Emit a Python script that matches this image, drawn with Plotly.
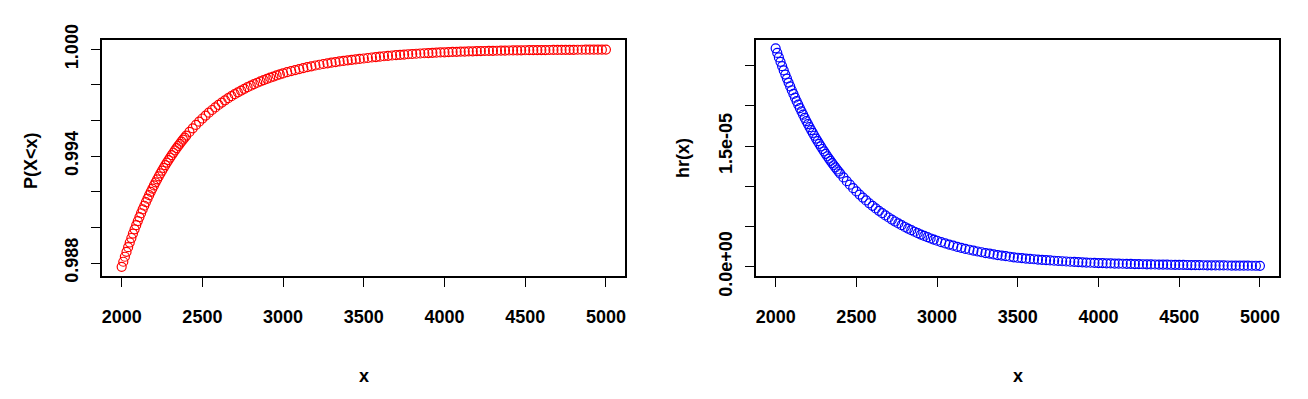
import plotly.graph_objects as go

# x grid (denser where the curves are steep)
x_vals = list(range(2000, 2401, 10)) + list(range(2420, 3001, 20)) + list(range(3025, 5001, 25))

# P(X<x)
p_vals = [
    0.987784, 0.988071, 0.988351, 0.988624, 0.988890, 0.989150, 0.989403, 0.989650, 0.989890, 0.990125,
    0.990354, 0.990577, 0.990795, 0.991008, 0.991215, 0.991417, 0.991614, 0.991806, 0.991994, 0.992177,
    0.992356, 0.992530, 0.992700, 0.992866, 0.993028, 0.993186, 0.993340, 0.993491, 0.993637, 0.993781,
    0.993920, 0.994057, 0.994190, 0.994320, 0.994447, 0.994571, 0.994692, 0.994810, 0.994925, 0.995038,
    0.995147,
    0.995359, 0.995561, 0.995754, 0.995937, 0.996113, 0.996280, 0.996439, 0.996591, 0.996736, 0.996875,
    0.997007, 0.997133, 0.997253, 0.997368, 0.997478, 0.997583, 0.997683, 0.997779, 0.997871, 0.997958,
    0.998042, 0.998121, 0.998198, 0.998271, 0.998340, 0.998407, 0.998471, 0.998532, 0.998591, 0.998646,
    0.998713, 0.998776, 0.998836, 0.998892, 0.998946, 0.998996, 0.999044, 0.999090, 0.999133, 0.999174,
    0.999213, 0.999250, 0.999284, 0.999318, 0.999349, 0.999379, 0.999407, 0.999434, 0.999460,
    0.999484, 0.999512, 0.999539, 0.999564, 0.999588, 0.999610, 0.999632, 0.999652, 0.999671, 0.999689,
    0.999706, 0.999722, 0.999737, 0.999751, 0.999765, 0.999778, 0.999790, 0.999801, 0.999812, 0.999823,
    0.999832, 0.999841, 0.999850, 0.999858, 0.999866, 0.999873, 0.999880, 0.999887, 0.999893, 0.999899,
    0.999904, 0.999910, 0.999915, 0.999919, 0.999924, 0.999928, 0.999932, 0.999936, 0.999939, 0.999942,
    0.999946, 0.999949, 0.999951, 0.999954, 0.999957, 0.999959, 0.999961, 0.999963, 0.999965, 0.999967,
    0.999969, 0.999971, 0.999972, 0.999974, 0.999975, 0.999977, 0.999978, 0.999979, 0.999980, 0.999981,
    0.999982,
]

# hr(x), in units of 1e-6
hr_e6 = [
    27.16, 26.59, 26.03, 25.48, 24.94, 24.41, 23.90, 23.40, 22.90, 22.42,
    21.95, 21.49, 21.03, 20.59, 20.15, 19.73, 19.31, 18.91, 18.51, 18.12,
    17.74, 17.36, 17.00, 16.64, 16.29, 15.94, 15.61, 15.28, 14.96, 14.64,
    14.34, 14.04, 13.74, 13.45, 13.17, 12.89, 12.62, 12.35, 12.09, 11.84,
    11.59,
    11.10, 10.64, 10.20, 9.77, 9.36, 8.97, 8.60, 8.24, 7.89, 7.57,
    7.25, 6.95, 6.66, 6.38, 6.12, 5.86, 5.62, 5.38, 5.16, 4.94,
    4.74, 4.54, 4.35, 4.17, 3.99, 3.83, 3.67, 3.51, 3.37, 3.23,
    3.06, 2.90, 2.75, 2.61, 2.47, 2.35, 2.22, 2.11, 2.00, 1.89,
    1.80, 1.70, 1.62, 1.53, 1.45, 1.38, 1.31, 1.24, 1.17,
    1.110, 1.061, 1.014, 0.970, 0.927, 0.886, 0.847, 0.810, 0.774, 0.740,
    0.708, 0.677, 0.647, 0.618, 0.591, 0.565, 0.540, 0.516, 0.494, 0.472,
    0.451, 0.436, 0.421, 0.406, 0.392, 0.379, 0.366, 0.353, 0.341, 0.329,
    0.318, 0.307, 0.296, 0.286, 0.276, 0.267, 0.258, 0.249, 0.240, 0.232,
    0.224, 0.216, 0.209, 0.202, 0.195, 0.188, 0.182, 0.175, 0.169, 0.164,
    0.158, 0.153, 0.147, 0.142, 0.137, 0.133, 0.128, 0.124, 0.119, 0.115,
    0.111,
]
hr_vals = [v * 1e-6 for v in hr_e6]

x_ticks = [2000, 2500, 3000, 3500, 4000, 4500, 5000]
x_ticktext = ["2000", "2500", "3000", "3500", "4000", "4500", "5000"]
p_ticks = [0.988, 0.990, 0.992, 0.994, 0.996, 0.998, 1.000]
p_ticktext = ["0.988", "", "", "0.994", "", "", "1.000"]
hr_ticks = [0.0, 5e-6, 1e-5, 1.5e-5, 2e-5, 2.5e-5]
hr_ticktext = ["0.0e+00", "", "", "1.5e-05", "", ""]

W, H = 1308, 399
FONT = "Liberation Sans, Arial, sans-serif"
FS = 18
FW = "bold"

fig = go.Figure()
fig.add_trace(go.Scatter(
    x=x_vals, y=p_vals, mode="markers", xaxis="x", yaxis="y",
    marker=dict(symbol="circle-open", size=9, color="#FF0000", line=dict(width=1.2, color="#FF0000")),
    showlegend=False,
))
fig.add_trace(go.Scatter(
    x=x_vals, y=hr_vals, mode="markers", xaxis="x2", yaxis="y2",
    marker=dict(symbol="circle-open", size=9, color="#0000FF", line=dict(width=1.2, color="#0000FF")),
    showlegend=False,
))

ydom = [1 - 275.7 / H, 1 - 40 / H]
tfont = dict(family=FONT, size=FS, color="black", weight=FW)
common_x = dict(
    range=[1880, 5120], tickmode="array", tickvals=x_ticks, ticktext=x_ticktext,
    showgrid=False, zeroline=False, showline=True, mirror=True, linecolor="black", linewidth=1.5,
    ticks="outside", ticklen=10, tickwidth=1, tickcolor="black", automargin=False,
    tickfont=tfont, ticklabelstandoff=14,
)
common_y = dict(
    showgrid=False, zeroline=False, showline=True, mirror=True, linecolor="black", linewidth=1.5,
    ticks="outside", ticklen=10, tickwidth=1, tickcolor="black", tickangle=-90, automargin=False,
    tickfont=tfont, ticklabelstandoff=5,
)

fig.update_layout(
    template="none",
    width=W, height=H, autosize=False,
    margin=dict(l=0, r=0, t=0, b=0, pad=0),
    paper_bgcolor="white", plot_bgcolor="white",
    xaxis=dict(domain=[102.3 / W, 625.3 / W], anchor="y", **common_x),
    yaxis=dict(domain=ydom, anchor="x", range=[0.987287, 1.000522], tickmode="array",
               tickvals=p_ticks, ticktext=p_ticktext, **common_y),
    xaxis2=dict(domain=[756.3 / W, 1279.3 / W], anchor="y2", **common_x),
    yaxis2=dict(domain=ydom, anchor="x2", range=[-1.12e-6, 2.82e-5], tickmode="array",
                tickvals=hr_ticks, ticktext=hr_ticktext, **common_y),
)

def ann(text, px, py, angle=0):
    return dict(text=text, x=px / W, y=1 - py / H, xref="paper", yref="paper",
                xanchor="center", yanchor="middle", showarrow=False, textangle=angle,
                font=tfont)

fig.update_layout(annotations=[
    ann("P(X&lt;x)", 31, 161, -90),
    ann("hr(x)", 683, 158, -90),
    ann("x", 364, 376),
    ann("x", 1018, 376),
])

fig.write_html("out.html", config={"displayModeBar": False},
               post_script="document.body.style.margin='0px';document.body.style.overflow='hidden';")
